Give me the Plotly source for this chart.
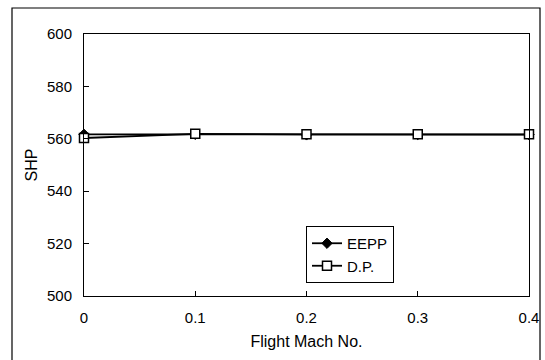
import plotly.graph_objects as go

mach = [0, 0.1, 0.2, 0.3, 0.4]
eepp = [561.7, 561.7, 561.5, 561.6, 561.6]
dp = [560.3, 561.9, 561.7, 561.7, 561.7]
x_ticks = [0, 0.1, 0.2, 0.3, 0.4]
x_labels = ["0", "0.1", "0.2", "0.3", "0.4"]
y_ticks = [500, 520, 540, 560, 580, 600]

W, H = 545, 360
L, R, T, B = 84, 529, 34, 296
pw, ph = R - L, B - T

def px_x(p):
    return (p - L) / pw

def px_y(p):
    return (B - p) / ph

fig = go.Figure()
fig.add_trace(go.Scatter(
    x=mach, y=eepp, name="EEPP", mode="lines+markers",
    line=dict(color="black", width=1.8),
    marker=dict(symbol="diamond", size=8, color="black", line=dict(color="black", width=1)),
    cliponaxis=False,
))
fig.add_trace(go.Scatter(
    x=mach, y=dp, name="D.P.", mode="lines+markers",
    line=dict(color="black", width=1.8),
    marker=dict(symbol="square", size=9, color="white", line=dict(color="black", width=1.5)),
    cliponaxis=False,
))

font = "Liberation Sans, Arial, sans-serif"
fig.update_layout(
    width=W, height=H,
    margin=dict(l=L, r=W - R, t=T, b=H - B, autoexpand=False),
    paper_bgcolor="white", plot_bgcolor="white",
    font=dict(family=font, size=15, color="black"),
    showlegend=True,
    legend=dict(
        x=px_x(306), y=px_y(226), xanchor="left", yanchor="top",
        bordercolor="black", borderwidth=1, bgcolor="white",
        font=dict(size=15), itemwidth=30, tracegroupgap=0,
    ),
    xaxis=dict(
        range=[0, 0.4], tickvals=x_ticks, ticktext=x_labels,
        showgrid=False, zeroline=False, showline=True, mirror=True,
        linecolor="black", linewidth=1, ticks="inside", ticklen=5,
        tickcolor="black", ticklabelstandoff=8,
        title=dict(text="Flight Mach No.", font=dict(size=16), standoff=10),
    ),
    yaxis=dict(
        range=[500, 600], tickvals=y_ticks,
        showgrid=False, zeroline=False, showline=True, mirror=True,
        linecolor="black", linewidth=1, ticks="inside", ticklen=5,
        tickcolor="black", ticklabelstandoff=8,
        title=dict(text="SHP", font=dict(size=16), standoff=5),
    ),
    shapes=[dict(
        type="rect", xref="paper", yref="paper",
        x0=px_x(12), x1=px_x(540), y0=px_y(368), y1=px_y(8),
        line=dict(color="black", width=1.2), fillcolor="rgba(0,0,0,0)", layer="below",
    )],
)

fig.write_html("out.html")
